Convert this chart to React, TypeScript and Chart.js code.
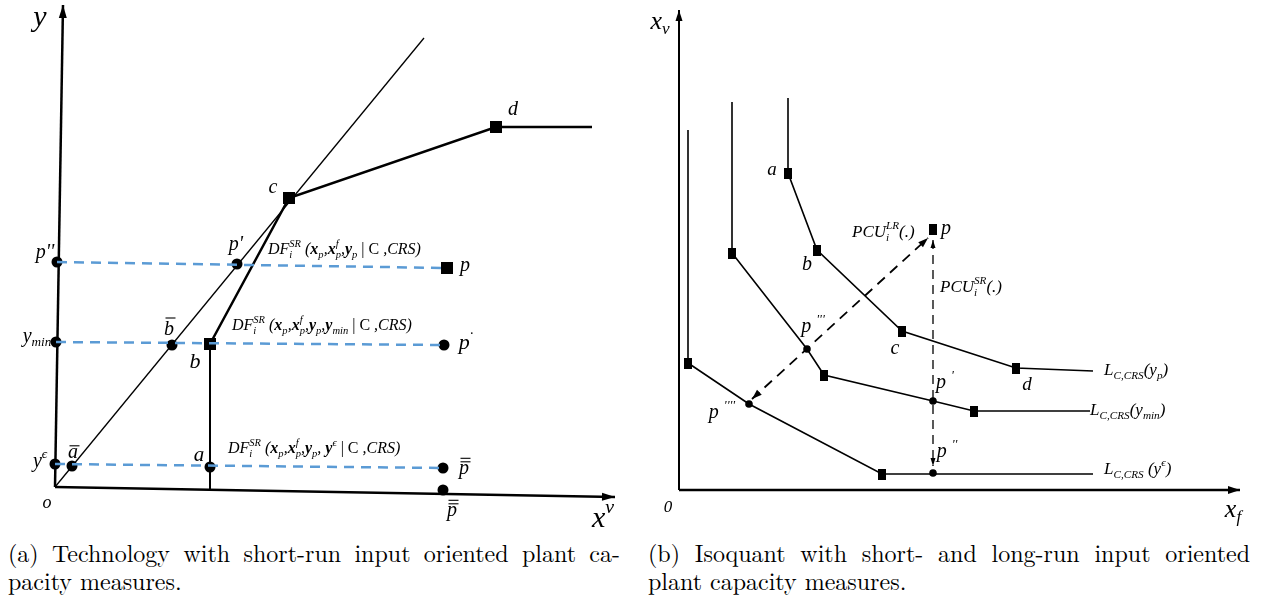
import React, { useEffect, useRef } from "react";
import { Chart, registerables } from "chart.js";
Chart.register(...registerables);

// ---------- Panel (a): technology (data units, origin at 0,0) ----------
const techYAxis = [[0, 0], [8, 482]];
const techXAxis = [[0, 0], [560, -10]];
const crsRay = [[0, 0], [369, 449]];
const frontierBCD = [[155, 143], [234, 289], [441, 360], [537, 360]];
const shortRunDrop = [[155, 143], [155, -3]];
const dashP = [[2, 225], [392, 219]];
const dashYmin = [[1, 145], [389, 142]];
const dashYeps = [[0, 23], [388, 19]];
const techSquares = [[234, 289], [441, 360], [155, 143], [392, 219]];
const techDots = [[2, 225], [182, 223], [1, 145], [117, 142], [389, 142], [0, 23], [17, 21], [155, 20], [388, 19], [388, -3]];
// [text, x, y, size, align, overline count]
const techLabels: [string, number, number, number, string, number?][] = [
  ["y", -15, 469, 30, "center"],
  ["o", -8, -16, 18, "center"],
  ["x^{v}", 548, -32, 30, "center"],
  ["c", 218, 299, 20, "center"],
  ["d", 458, 377, 20, "center"],
  ["b", 140, 125, 22, "center"],
  ["p''", -10, 234, 20, "center"],
  ["p'", 181, 242, 20, "center"],
  ["p", 410, 221, 20, "center"],
  ["y_{min}", -18, 150, 20, "center"],
  ["b", 114, 157, 20, "center", 1],
  ["p^{·}", 411, 144, 22, "center"],
  ["y^{ϵ}", -15, 25, 20, "center"],
  ["a", 18, 34, 20, "center", 1],
  ["a", 144, 32, 21, "center"],
  ["p", 409, 18, 20, "center", 2],
  ["p", 397, -24, 20, "center", 2],
  ["DF_{i}^{SR} (*x*_{p},*x*_{p}^{f},*y*_{p} ~| C~ ,CRS)", 213, 237, 16, "left"],
  ["DF_{i}^{SR} (*x*_{p},*x*_{p}^{f},*y*_{p},*y*_{min} ~| C~ ,CRS)", 177, 161, 16, "left"],
  ["DF_{i}^{SR} (*x*_{p},*x*_{p}^{f},*y*_{p}, *y*^{ϵ} ~| C~ ,CRS)", 173, 38, 16, "left"],
];

// ---------- Panel (b): isoquants ----------
const isoYAxis = [[0, 0], [0, 480]];
const isoXAxis = [[0, 0], [561, 0]];
const isoYp = [[109, 392], [109, 317], [138, 240], [223, 159], [337, 122], [414, 119]];
const isoYmin = [[53, 388], [53, 237], [128, 141], [145, 115], [254, 89], [295, 79], [411, 79]];
const isoYeps = [[9, 360], [9, 127], [70, 86], [203, 16], [414, 16]];
const isoSquares = [[109, 317], [138, 240], [223, 159], [337, 122], [53, 237], [145, 115], [295, 79], [9, 127], [203, 16], [254, 261]];
const isoDots = [[128, 141], [254, 89], [70, 86], [254, 17]];
const pcuSR = [[254, 250], [254, 24]];
const pcuLR = [[73, 91], [249, 252]];
const isoLabels: [string, number, number, number, string, number?][] = [
  ["x_{v}", -19, 468, 26, "center"],
  ["0", -11, -18, 17, "center"],
  ["a", 93, 320, 19, "center"],
  ["b", 128, 225, 20, "center"],
  ["c", 216, 141, 20, "center"],
  ["d", 348, 105, 19, "center"],
  ["p", 267, 261, 20, "center"],
  ["PCU_{i}^{LR}(.)", 173, 257, 17, "left"],
  ["PCU_{i}^{SR}(.)", 261, 202, 17, "left"],
  ["p ^{'''}", 134, 163, 20, "center"],
  ["p ^{''''}", 43, 77, 20, "center"],
  ["p ^{'}", 266, 107, 20, "center"],
  ["p ^{''}", 268, 38, 20, "center"],
  ["L_{C,CRS}(y_{p})", 425, 119, 17, "left"],
  ["L_{C,CRS}(y_{min})", 411, 79, 17, "left"],
  ["L_{C,CRS} (y^{ϵ})", 425, 20, 17, "left"],
  ["x_{f}", 554, -20, 26, "center"],
];

const FAMILY = '"Liberation Serif", serif';
const CAPFAMILY = '"Latin Modern Roman", "Liberation Serif", serif';
const BLUE = "#5B9BD5";

const pts = (a: number[][]) => a.map(([x, y]) => ({ x, y }));

type Seg = { t: string; k: "n" | "b" | "p"; bold: boolean; up: boolean };
function parseRich(s: string): Seg[] {
  const segs: Seg[] = [];
  let bold = false, up = false, buf = "";
  const flush = () => {
    if (buf) { segs.push({ t: buf, k: "n", bold, up }); buf = ""; }
  };
  for (let i = 0; i < s.length; i++) {
    const ch = s[i];
    if ((ch === "_" || ch === "^") && s[i + 1] === "{") {
      flush();
      const j = s.indexOf("}", i + 2);
      segs.push({ t: s.slice(i + 2, j), k: ch === "_" ? "b" : "p", bold, up });
      i = j;
    } else if (ch === "*") { flush(); bold = !bold; }
    else if (ch === "~") { flush(); up = !up; }
    else buf += ch;
  }
  flush();
  return segs;
}

function drawRich(ctx: CanvasRenderingContext2D, s: string, x: number, y: number, size: number, align: string, bars = 0) {
  const segs = parseRich(s);
  const font = (sg: Seg, sz: number) => `${sg.up ? "" : "italic "}${sg.bold ? "bold " : ""}${sz}px ${FAMILY}`;
  const items: { sg: Seg; sz: number; x: number; dy: number }[] = [];
  let cx = 0;
  const off = (k: string) => (k === "b" ? size * 0.3 : k === "p" ? -size * 0.38 : 0);
  for (let i = 0; i < segs.length; i++) {
    const sg = segs[i];
    const sz = sg.k === "n" ? size : size * 0.66;
    ctx.font = font(sg, sz);
    const w = ctx.measureText(sg.t).width;
    items.push({ sg, sz, x: cx, dy: off(sg.k) });
    const nx = segs[i + 1];
    if (sg.k !== "n" && nx && nx.k !== "n" && nx.k !== sg.k) {
      ctx.font = font(nx, sz);
      const w2 = ctx.measureText(nx.t).width;
      items.push({ sg: nx, sz, x: cx, dy: off(nx.k) });
      cx += Math.max(w, w2);
      i++;
    } else cx += w;
  }
  const x0 = align === "center" ? x - cx / 2 : align === "right" ? x - cx : x;
  ctx.textBaseline = "middle";
  ctx.textAlign = "left";
  ctx.fillStyle = "#000";
  for (const it of items) {
    ctx.font = font(it.sg, it.sz);
    ctx.fillText(it.sg.t, x0 + it.x, y + it.dy);
  }
  if (bars) {
    ctx.strokeStyle = "#000";
    ctx.lineWidth = 1.1;
    const top = s === "b" ? y - size * 0.6 : y - size * 0.36;
    for (let k = 0; k < bars; k++) {
      const yy = top - k * 3.5;
      ctx.beginPath();
      ctx.moveTo(x0 + 1.5, yy);
      ctx.lineTo(x0 + cx + 1.5, yy);
      ctx.stroke();
    }
  }
}

const overlayPlugin = {
  id: "overlay",
  afterDatasetsDraw(chart: any) {
    const ctx: CanvasRenderingContext2D = chart.ctx;
    chart.data.datasets.forEach((ds: any, i: number) => {
      if (!ds.arrow) return;
      const m = chart.getDatasetMeta(i).data;
      const head = (a: any, b: any) => {
        const ang = Math.atan2(b.y - a.y, b.x - a.x);
        ctx.save();
        ctx.translate(b.x, b.y);
        ctx.rotate(ang);
        ctx.beginPath();
        ctx.moveTo(0, 0);
        ctx.lineTo(-ds.arrow.len, ds.arrow.w / 2);
        ctx.lineTo(-ds.arrow.len, -ds.arrow.w / 2);
        ctx.closePath();
        ctx.fillStyle = "#000";
        ctx.fill();
        ctx.restore();
      };
      const n = m.length;
      if (ds.arrow.end) head(m[n - 2], m[n - 1]);
      if (ds.arrow.start) head(m[1], m[0]);
    });
    const labels = chart.options.plugins.overlay.labels as [string, number, number, number, string, number?][];
    const sx = chart.scales.x, sy = chart.scales.y;
    ctx.save();
    for (const [t, x, y, size, align, bars] of labels) {
      drawRich(ctx, t, sx.getPixelForValue(x), sy.getPixelForValue(y), size, align, bars || 0);
    }
    ctx.restore();
  },
};

const line = (data: number[][], width: number, color = "#000", dash: number[] = [], arrow?: any) => ({
  data: pts(data), showLine: true, borderColor: color, borderWidth: width, borderDash: dash,
  pointRadius: 0, pointHoverRadius: 0, fill: false, tension: 0, clip: false, arrow,
});
const markers = (data: number[][], style: any, radius: number) => ({
  data: pts(data), showLine: false, pointStyle: style, pointRadius: radius, pointHoverRadius: radius,
  pointBackgroundColor: "#000", pointBorderColor: "#000", pointBorderWidth: 0, clip: false,
});

function makeChart(canvas: HTMLCanvasElement, datasets: any[], xr: number[], yr: number[], labels: any[]) {
  return new Chart(canvas, {
    type: "scatter",
    data: { datasets },
    options: {
      animation: false,
      responsive: false,
      devicePixelRatio: 1,
      layout: { padding: 0, autoPadding: false },
      events: [],
      plugins: { legend: { display: false }, tooltip: { enabled: false }, overlay: { labels } } as any,
      scales: {
        x: { type: "linear", display: false, min: xr[0], max: xr[1] },
        y: { type: "linear", display: false, min: yr[0], max: yr[1] },
      },
    },
    plugins: [overlayPlugin],
  } as any);
}

export default function App() {
  const leftRef = useRef<HTMLCanvasElement>(null);
  const rightRef = useRef<HTMLCanvasElement>(null);

  useEffect(() => {
    let left: Chart | null = null;
    let right: Chart | null = null;
    let cancelled = false;

    const build = () => {
      if (cancelled || !leftRef.current || !rightRef.current) return;
      const sq = document.createElement("canvas");
      sq.width = 8; sq.height = 11;
      const sctx = sq.getContext("2d")!;
      sctx.fillStyle = "#000";
      sctx.fillRect(0, 0, 8, 11);

      const axisArrow = { end: true, len: 13, w: 8 };
      left = makeChart(leftRef.current, [
        line(dashP, 2.5, BLUE, [10, 7]),
        line(dashYmin, 2.5, BLUE, [10, 7]),
        line(dashYeps, 2.5, BLUE, [10, 7]),
        line(techYAxis, 2.5, "#000", [], axisArrow),
        line(techXAxis, 2.5, "#000", [], axisArrow),
        line(crsRay, 1.3),
        line(frontierBCD, 2.5),
        line(shortRunDrop, 2),
        markers(techDots, "circle", 5.5),
        markers(techSquares, "rect", 8.5),
      ], [-55, 575], [-43, 487], techLabels);

      right = makeChart(rightRef.current, [
        line(isoYAxis, 2, "#000", [], { end: true, len: 11, w: 7 }),
        line(isoXAxis, 2.5, "#000", [], { end: true, len: 12, w: 8 }),
        line(isoYp, 1.6),
        line(isoYmin, 1.6),
        line(isoYeps, 1.6),
        line(pcuSR, 1.3, "#000", [9, 6], { start: true, end: true, len: 8, w: 5 }),
        line(pcuLR, 1.8, "#000", [10, 7], { start: true, end: true, len: 10, w: 7 }),
        markers(isoDots, "circle", 3.8),
        markers(isoSquares, sq, 5),
      ], [-49, 583], [-40, 490], isoLabels);
    };

    const loads = [
      'italic 16px "Liberation Serif"',
      'italic bold 16px "Liberation Serif"',
      '16px "Liberation Serif"',
    ].map((f) => (document as any).fonts?.load(f).catch(() => null));
    Promise.all(loads).then(build, build);

    return () => {
      cancelled = true;
      left?.destroy();
      right?.destroy();
    };
  }, []);

  const cap: React.CSSProperties = { position: "absolute", top: 538, fontFamily: CAPFAMILY, fontSize: 24, lineHeight: "28px", color: "#000" };
  return (
    <div style={{ position: "absolute", left: 0, top: 0, width: 1262, height: 598, background: "#fff", overflow: "hidden" }}>
      <canvas ref={leftRef} width={630} height={530} style={{ position: "absolute", left: 0, top: 0 }} />
      <canvas ref={rightRef} width={632} height={530} style={{ position: "absolute", left: 630, top: 0 }} />
      <div style={{ ...cap, left: 8, width: 612 }}>
        <div style={{ textAlign: "justify", textAlignLast: "justify" } as any}>(a) Technology with short-run input oriented plant ca-</div>
        <div>pacity measures.</div>
      </div>
      <div style={{ ...cap, left: 648, width: 602 }}>
        <div style={{ textAlign: "justify", textAlignLast: "justify" } as any}>(b) Isoquant with short- and long-run input oriented</div>
        <div>plant capacity measures.</div>
      </div>
    </div>
  );
}
